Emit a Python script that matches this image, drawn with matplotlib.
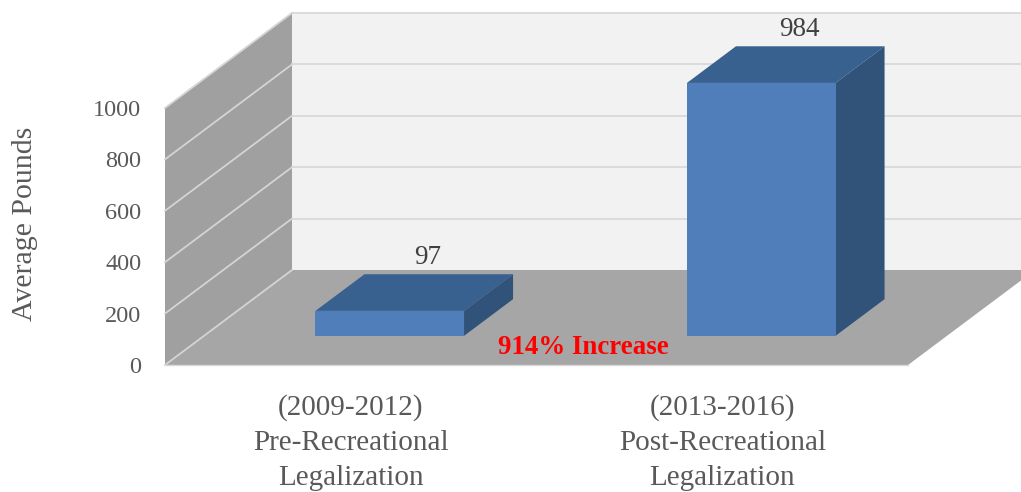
import matplotlib
matplotlib.use("Agg")
import matplotlib.pyplot as plt
from matplotlib.patches import Polygon

# data
categories = ["(2009-2012)\nPre-Recreational\nLegalization", "(2013-2016)\nPost-Recreational\nLegalization"]
pounds = [97, 984]
yticks = [0, 200, 400, 600, 800, 1000]
note = "914% Increase"

plt.rcParams['font.family'] = ['Liberation Serif', 'DejaVu Serif']

W, H = 1021, 492
fig = plt.figure(figsize=(W / 100, H / 100), dpi=100)
# front plane of the fake 3d box
ax = fig.add_axes([165 / W, 1 - 365 / H, 743 / W, 257 / H])
ax.set_xlim(0, 2)
ax.set_ylim(0, 1000)
ax.patch.set_visible(False)
for s in ax.spines.values():
    s.set_visible(False)

# how far the back wall is shifted, in data units
DX = 127 / 371.5
DY = 95 / 0.257
BAR_W = 0.4
D0, D1 = 0.307, 0.693


def pr(x, v, d):
    return (x + d * DX, v + d * DY)


def face(pts, color, z, edge="none", lw=0):
    ax.add_patch(Polygon([pr(*p) for p in pts], closed=True, fc=color, ec=edge, lw=lw,
                         clip_on=False, zorder=z))


# walls and floor
face([(0, 0, 1), (2, 0, 1), (2, 1000, 1), (0, 1000, 1)], "#f2f2f2", 1)
face([(0, 0, 0), (0, 0, 1), (0, 1000, 1), (0, 1000, 0)], "#a0a0a0", 1)
face([(0, 0, 0), (2, 0, 0), (2, 0, 1), (0, 0, 1)], "#a6a6a6", 2)

for v in yticks:
    a, b, c = pr(0, v, 0), pr(0, v, 1), pr(2, v, 1)
    ax.plot([a[0], b[0]], [a[1], b[1]], color="#d4d4d4", lw=1.3, clip_on=False, zorder=3)
    if v > 0:
        ax.plot([b[0], c[0]], [b[1], c[1]], color="#d9d9d9", lw=1.3, clip_on=False, zorder=1.5)
b = pr(0, 0, 0)
c = pr(2, 0, 0)
ax.plot([b[0], c[0]], [b[1], c[1]], color="#d9d9d9", lw=1, clip_on=False, zorder=3)

# bars
for i, val in enumerate(pounds):
    x0 = i + 0.5 - BAR_W / 2
    x1 = i + 0.5 + BAR_W / 2
    z = 4 + i
    face([(x0, val, D0), (x1, val, D0), (x1, val, D1), (x0, val, D1)], "#38618f", z)
    face([(x1, 0, D0), (x1, 0, D1), (x1, val, D1), (x1, val, D0)], "#315279", z)
    face([(x0, 0, D0), (x1, 0, D0), (x1, val, D0), (x0, val, D0)], "#4f7ebb", z)
    lx, ly = pr(i + 0.5, val, D1)
    ax.annotate(str(val), (lx, ly), xytext=(-8, 12), textcoords="offset points", ha="center", va="center",
                fontsize=19.5, color="#404040", zorder=8, annotation_clip=False)

ax.text(1.127, 68, note, ha="center", va="center", fontsize=19.4, fontweight="bold",
        color="#ff0000", zorder=9)

ax.set_yticks(yticks)
ax.set_xticks([0.5, 1.5])
ax.set_xticklabels(categories, linespacing=1.45)
ax.tick_params(axis="y", length=0, pad=17, labelsize=17.5, labelcolor="#595959")
ax.tick_params(axis="x", length=0, pad=21, labelsize=21, labelcolor="#595959")
ax.set_ylabel("Average Pounds", fontsize=21.5, color="#595959")
ax.yaxis.set_label_coords(-127 / 743, 141 / 257)

fig.savefig("out.png", dpi=100)
